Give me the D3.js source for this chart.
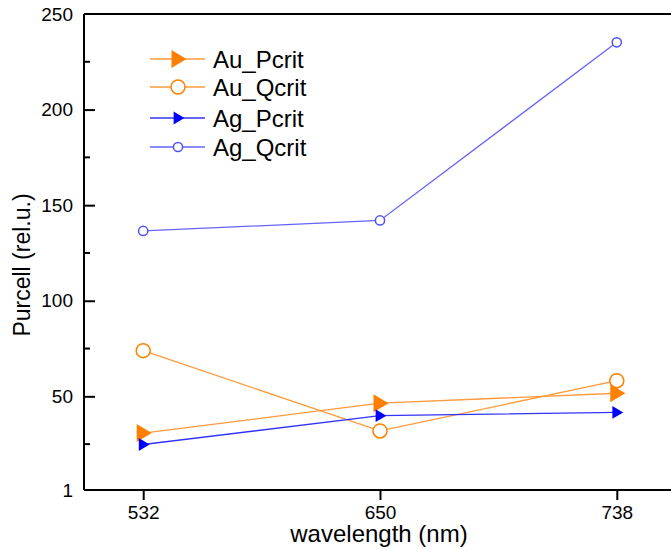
<!DOCTYPE html>
<html>
<head>
<meta charset="utf-8">
<script src="https://cdn.jsdelivr.net/npm/d3@7"></script>
<style>
html,body{margin:0;padding:0;background:#fff;}
svg{display:block;font-family:"Liberation Sans",Arial,sans-serif;}
</style>
</head>
<body>
<svg id="chart" width="671" height="550"></svg>
<script>
const categories = ["532", "650", "738"];
const auPcrit = [30.8, 46.4, 51.6];
const auQcrit = [73.9, 31.9, 58.2];
const agPcrit = [24.8, 39.9, 41.6];
const agQcrit = [136.5, 142, 235.2];
const yTicks = [1, 50, 100, 150, 200, 250];
const yMinorTicks = [25, 75, 125, 175, 225];
const seriesNames = ["Au_Pcrit", "Au_Qcrit", "Ag_Pcrit", "Ag_Qcrit"];

const series = [
  {name: seriesNames[0], values: auPcrit, color: "#ff8000", line: "#ff9a3c", marker: "tri", size: 1.0},
  {name: seriesNames[1], values: auQcrit, color: "#ff8000", line: "#ff9a3c", marker: "circle", size: 7},
  {name: seriesNames[2], values: agPcrit, color: "#0000ff", line: "#3333ff", marker: "tri", size: 0.72},
  {name: seriesNames[3], values: agQcrit, color: "#5050ff", line: "#6464ff", marker: "circle", size: 4.6}
];

const svg = d3.select("#chart");
const mLeft = 84, mTop = 14, mBottom = 490, mRight = 676;

const x = d3.scalePoint().domain(categories).range([mLeft, mRight]).padding(0.25);
const y = d3.scaleLinear().domain([1, 250]).range([mBottom, mTop]);

svg.append("line").attr("x1", mLeft).attr("x2", 671).attr("y1", mTop).attr("y2", mTop)
  .attr("stroke", "#000").attr("stroke-width", 2);

const yAxis = svg.append("g").attr("transform", `translate(${mLeft},0)`)
  .call(d3.axisLeft(y).tickValues(yTicks).tickSize(-11).tickPadding(11).tickFormat(d3.format("d")));
yAxis.select(".domain").attr("stroke-width", 2).attr("d", `M0,${mTop}V${mBottom}`);
yAxis.selectAll(".tick line").attr("stroke-width", 2);
yAxis.selectAll(".tick text").attr("font-size", 19).attr("fill", "#000")
  .attr("font-family", "Liberation Sans, Arial, sans-serif");
yAxis.selectAll(".tick").filter(d => d === 250 || d === 1).select("line").remove();

svg.append("g").selectAll("line").data(yMinorTicks).join("line")
  .attr("x1", mLeft).attr("x2", mLeft + 6)
  .attr("y1", d => y(d)).attr("y2", d => y(d))
  .attr("stroke", "#000").attr("stroke-width", 2);

const xAxis = svg.append("g").attr("transform", `translate(0,${mBottom})`)
  .call(d3.axisBottom(x).tickSize(10).tickPadding(6));
xAxis.select(".domain").attr("stroke-width", 2).attr("d", `M${mLeft},0H671`);
xAxis.selectAll(".tick line").attr("stroke-width", 2);
xAxis.selectAll(".tick text").attr("font-size", 19).attr("fill", "#000")
  .attr("font-family", "Liberation Sans, Arial, sans-serif");

svg.append("text").attr("x", 379).attr("y", 542).attr("text-anchor", "middle")
  .attr("font-size", 24).text("wavelength (nm)");
svg.append("text").attr("transform", "translate(30,265) rotate(-90)").attr("text-anchor", "middle")
  .attr("font-size", 23).text("Purcell (rel.u.)");

function triPath(s) {
  const w = 15 * s, h = 18 * s;
  return `M${-w / 2 + 1},${-h / 2}L${w / 2 + 1},0L${-w / 2 + 1},${h / 2}Z`;
}
function drawMarker(g, s, cx, cy) {
  if (s.marker === "tri") {
    g.append("path").attr("d", triPath(s.size)).attr("transform", `translate(${cx},${cy})`)
      .attr("fill", s.color).attr("stroke", "none");
  } else {
    g.append("circle").attr("cx", cx).attr("cy", cy).attr("r", s.size)
      .attr("fill", "#fff").attr("stroke", s.color).attr("stroke-width", 1.5);
  }
}

const line = d3.line().x((d, i) => x(categories[i])).y(d => y(d));
series.forEach(s => {
  const g = svg.append("g");
  g.append("path").attr("d", line(s.values)).attr("fill", "none")
    .attr("stroke", s.line).attr("stroke-width", 1.3);
  s.values.forEach((v, i) => drawMarker(g, s, x(categories[i]), y(v)));
});

const legendY = [59, 87, 118, 147];
series.forEach((s, i) => {
  const g = svg.append("g");
  g.append("line").attr("x1", 150).attr("x2", 205).attr("y1", legendY[i]).attr("y2", legendY[i])
    .attr("stroke", s.line).attr("stroke-width", 1.3);
  drawMarker(g, s, 178, legendY[i]);
  g.append("text").attr("x", 213).attr("y", legendY[i]).attr("dy", "0.36em")
    .attr("font-size", 24).text(s.name);
});
</script>
</body>
</html>
